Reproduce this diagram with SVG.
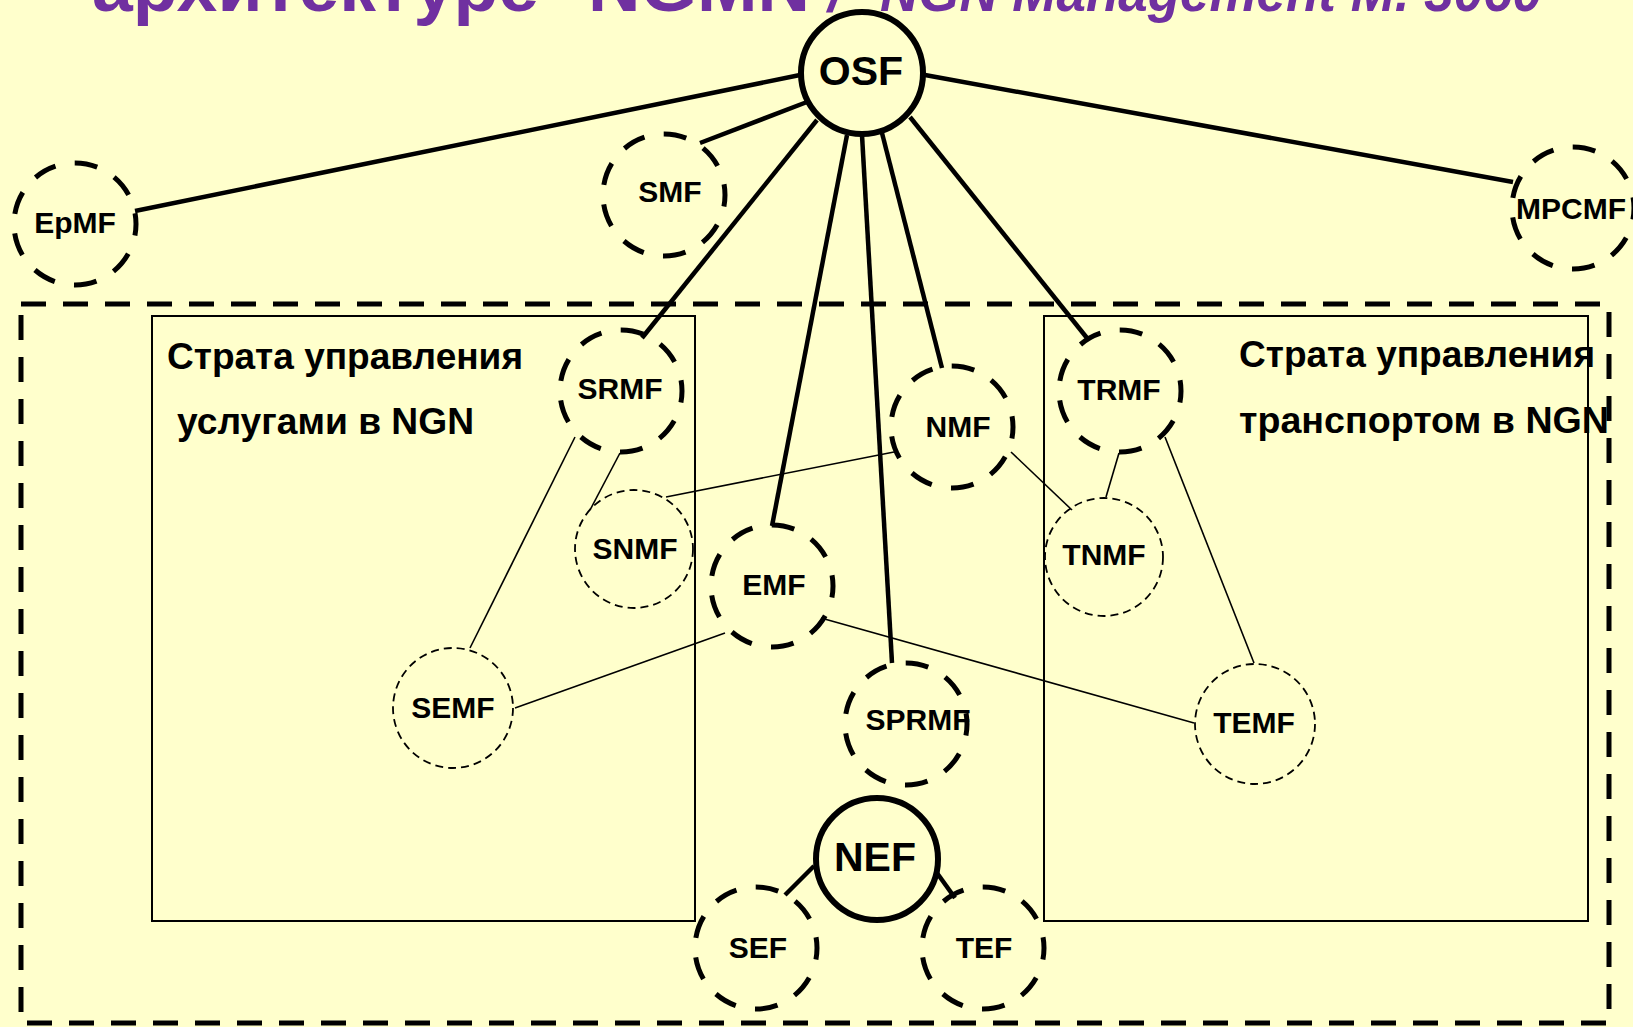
<svg xmlns="http://www.w3.org/2000/svg" width="1633" height="1027" viewBox="0 0 1633 1027">
<style>
.lbl{font-family:"Liberation Sans",Arial,sans-serif;font-weight:bold;font-size:30px;text-anchor:middle;fill:#000}
.big{font-size:41px}
.strata{font-family:"Liberation Sans",Arial,sans-serif;font-weight:bold;font-size:37px;fill:#000}
.title{font-family:"Liberation Sans",Arial,sans-serif;font-weight:bold;fill:#7030A0}
.thick{fill:none;stroke:#000;stroke-width:5;stroke-dasharray:23 19.6;stroke-dashoffset:11.5}
.thin{fill:none;stroke:#000;stroke-width:1.8;stroke-dasharray:8 5}
.solid{fill:none;stroke:#000;stroke-width:6}
.box{fill:none;stroke:#000;stroke-width:2}
.outer{fill:none;stroke:#000;stroke-width:5;stroke-dasharray:25 17}
.ct{stroke:#000;stroke-width:4.5;fill:none;stroke-linecap:butt}
.cn{stroke:#000;stroke-width:1.6;fill:none}
</style>
<rect x="0" y="0" width="1633" height="1027" fill="#FFFFCC"/>
<g id="title">
<text class="title" y="11" font-size="72"><tspan x="92" textLength="447" lengthAdjust="spacingAndGlyphs">архитектуре</tspan><tspan x="588" textLength="222" lengthAdjust="spacingAndGlyphs">NGMN</tspan></text>
<text class="title" y="11" font-size="56" font-style="italic"><tspan x="828">/</tspan><tspan x="880" textLength="662" lengthAdjust="spacingAndGlyphs">NGN Management M. 3060</tspan></text>
</g>
<g id="frames">
<rect id="outer-frame" class="outer" x="21" y="304" width="1588" height="719"/>
<rect id="service-stratum" class="box" x="152" y="316" width="543" height="605"/>
<rect id="transport-stratum" class="box" x="1044" y="316" width="544" height="605"/>
<text class="strata" x="167" y="369" textLength="356" lengthAdjust="spacingAndGlyphs">Страта управления</text>
<text class="strata" x="177" y="434" textLength="297" lengthAdjust="spacingAndGlyphs">услугами в NGN</text>
<text class="strata" x="1239" y="367" textLength="356" lengthAdjust="spacingAndGlyphs">Страта управления</text>
<text class="strata" x="1239" y="433" textLength="370" lengthAdjust="spacingAndGlyphs">транспортом в NGN</text>
</g>
<g id="connectors">
<line class="ct" x1="800" y1="75" x2="135" y2="211"/>
<line class="ct" x1="807" y1="102" x2="700" y2="143"/>
<line class="ct" x1="925" y1="75" x2="1513" y2="182"/>
<line class="ct" x1="817" y1="120" x2="642" y2="338"/>
<line class="ct" x1="847" y1="135" x2="772" y2="526"/>
<line class="ct" x1="862" y1="135" x2="892" y2="663"/>
<line class="ct" x1="882" y1="133" x2="942" y2="368"/>
<line class="ct" x1="910" y1="117" x2="1087" y2="338"/>
<line class="ct" x1="814" y1="866" x2="785" y2="895"/>
<line class="ct" x1="937" y1="873" x2="955" y2="898"/>
<line class="cn" x1="620" y1="453" x2="590" y2="510"/>
<line class="cn" x1="575" y1="437" x2="470" y2="648"/>
<line class="cn" x1="894" y1="452" x2="666" y2="497"/>
<line class="cn" x1="1011" y1="452" x2="1072" y2="510"/>
<line class="cn" x1="1119" y1="453" x2="1106" y2="497"/>
<line class="cn" x1="1165" y1="437" x2="1254" y2="663"/>
<line class="cn" x1="725" y1="633" x2="515" y2="708"/>
<line class="cn" x1="821" y1="618" x2="1194" y2="723"/>
</g>
<g id="OSF"><circle class="solid" cx="862" cy="73" r="61"/><text class="lbl big" x="861" y="85">OSF</text></g>
<g id="EpMF"><circle class="thick" cx="75" cy="224" r="61"/><text class="lbl" x="75" y="233">EpMF</text></g>
<g id="SMF"><circle class="thick" cx="664" cy="195" r="61"/><text class="lbl" x="670" y="202">SMF</text></g>
<g id="MPCMF"><circle class="thick" cx="1573" cy="208" r="61"/><text class="lbl" x="1571" y="219">MPCMF</text></g>
<g id="SRMF"><circle class="thick" cx="621" cy="391" r="61"/><text class="lbl" x="620" y="399">SRMF</text></g>
<g id="NMF"><circle class="thick" cx="952" cy="427" r="61"/><text class="lbl" x="958" y="437">NMF</text></g>
<g id="TRMF"><circle class="thick" cx="1120" cy="391" r="61"/><text class="lbl" x="1119" y="400">TRMF</text></g>
<g id="SNMF"><circle class="thin" cx="634" cy="549" r="59"/><text class="lbl" x="635" y="559">SNMF</text></g>
<g id="EMF"><circle class="thick" cx="772" cy="586" r="61"/><text class="lbl" x="774" y="595">EMF</text></g>
<g id="TNMF"><circle class="thin" cx="1104" cy="557" r="59"/><text class="lbl" x="1104" y="565">TNMF</text></g>
<g id="SEMF"><circle class="thin" cx="453" cy="708" r="60"/><text class="lbl" x="453" y="718">SEMF</text></g>
<g id="SPRMF"><circle class="thick" cx="906" cy="724" r="61"/><text class="lbl" x="918" y="730">SPRMF</text></g>
<g id="TEMF"><circle class="thin" cx="1255" cy="724" r="60"/><text class="lbl" x="1254" y="733">TEMF</text></g>
<g id="NEF"><circle class="solid" cx="877" cy="859" r="61"/><text class="lbl big" x="875" y="871">NEF</text></g>
<g id="SEF"><circle class="thick" cx="756" cy="948" r="61"/><text class="lbl" x="758" y="958">SEF</text></g>
<g id="TEF"><circle class="thick" cx="983" cy="948" r="61"/><text class="lbl" x="984" y="958">TEF</text></g>
</svg>
